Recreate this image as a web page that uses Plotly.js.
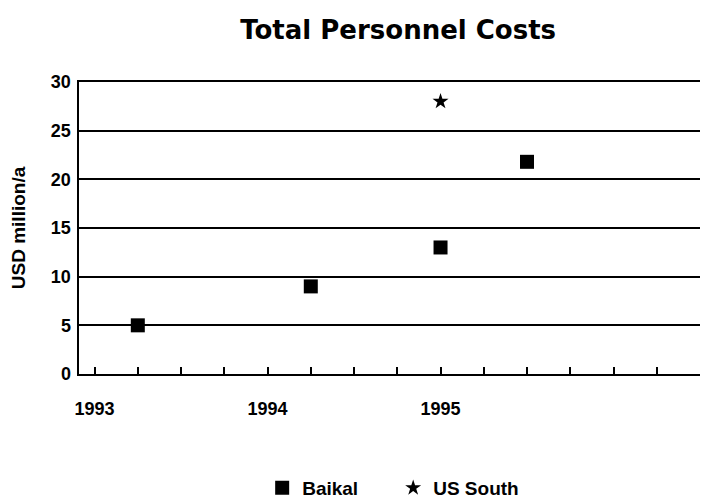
<!DOCTYPE html>
<html>
<head>
<meta charset="utf-8">
<script src="https://cdn.plot.ly/plotly-3.0.1.min.js"></script>
<style>
  html, body { margin: 0; padding: 0; background: #fff; }
  #chart { width: 701px; height: 499px; }
</style>
</head>
<body>
<div id="chart"></div>
<script>
// data
const baikalYears = [1993.25, 1994.25, 1995.0, 1995.5];
const baikalCosts = [5, 9, 13, 21.8];
const usSouthYears = [1995.0];
const usSouthCosts = [28];

// quarter ticks, labels only at whole years
const quarterTicks = [1993, 1993.25, 1993.5, 1993.75, 1994, 1994.25, 1994.5, 1994.75,
  1995, 1995.25, 1995.5, 1995.75, 1996, 1996.25];
const quarterLabels = ['1993', '', '', '', '1994', '', '', '', '1995', '', '', '', '', ''];
const yTicks = [0, 5, 10, 15, 20, 25, 30];

function drawChart() {
  const data = [
    {
      x: baikalYears,
      y: baikalCosts,
      mode: 'markers',
      name: 'Baikal',
      marker: { symbol: 'square', size: 14, color: '#000' }
    },
    {
      x: usSouthYears,
      y: usSouthCosts,
      mode: 'markers',
      name: 'US South',
      marker: { symbol: 'star', size: 12, color: '#000' }
    }
  ];

  const sans = 'Liberation Sans, Arial, sans-serif';
  const wide = 'DejaVu Sans, sans-serif';

  const layout = {
    width: 701,
    height: 499,
    margin: { l: 79, r: 1, t: 82, b: 125 },
    paper_bgcolor: '#fff',
    plot_bgcolor: '#fff',
    font: { family: sans, color: '#000' },
    showlegend: true,
    title: {
      text: '<b>Total Personnel Costs</b>',
      font: { family: wide, size: 26, color: '#000' },
      x: 0.568,
      xanchor: 'center',
      y: 0.94,
      yanchor: 'middle'
    },
    xaxis: {
      range: [1992.91, 1996.5],
      tickmode: 'array',
      tickvals: quarterTicks,
      ticktext: quarterLabels,
      ticks: 'inside',
      ticklen: 7,
      tickwidth: 2,
      tickcolor: '#000',
      ticklabelstandoff: 17,
      showgrid: false,
      zeroline: false,
      showline: true,
      mirror: true,
      linecolor: '#000',
      linewidth: 2,
      tickfont: { family: sans, size: 18, color: '#000', weight: 'bold' }
    },
    yaxis: {
      range: [0, 30],
      tickmode: 'array',
      tickvals: yTicks,
      ticks: '',
      ticklabelstandoff: 2,
      showgrid: true,
      gridcolor: '#000',
      gridwidth: 2,
      zeroline: false,
      showline: true,
      linecolor: '#000',
      linewidth: 2.5,
      tickfont: { family: sans, size: 18, color: '#000', weight: 'bold' },
      title: {
        text: '<b>USD million/a</b>',
        font: { family: sans, size: 19, color: '#000' },
        standoff: 20
      }
    },
    legend: {
      orientation: 'h',
      xref: 'container',
      yref: 'container',
      x: 0.374,
      xanchor: 'left',
      y: 0.022,
      yanchor: 'middle',
      itemwidth: 30,
      entrywidth: 86,
      entrywidthmode: 'pixels',
      font: { family: sans, size: 19, color: '#000', weight: 'bold' }
    }
  };

  Plotly.newPlot('chart', data, layout, { displayModeBar: false, staticPlot: true });
}

document.addEventListener('DOMContentLoaded', drawChart);
</script>
</body>
</html>
